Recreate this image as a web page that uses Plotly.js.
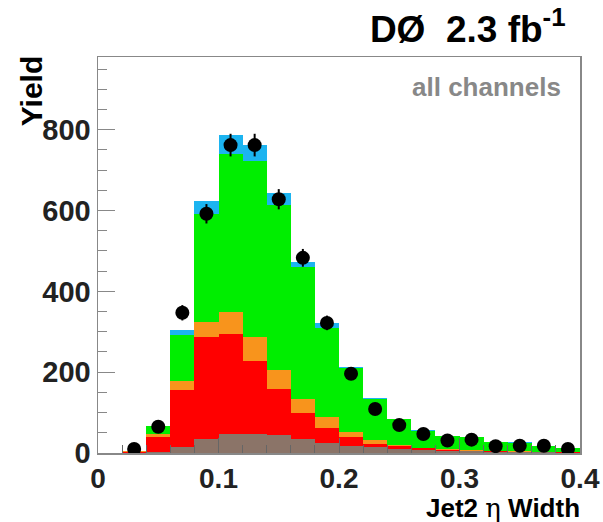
<!DOCTYPE html>
<html>
<head>
<meta charset="utf-8">
<script src="https://cdn.plot.ly/plotly-3.0.1.min.js"></script>
<style>html,body{margin:0;padding:0;background:#fff;}#chart{width:603px;height:522px;}</style>
</head>
<body>
<div id="chart"></div>
<script>
// Bin centres (bin width 0.02)
const binCenters = [0.03,0.05,0.07,0.09,0.11,0.13,0.15,0.17,0.19,0.21,0.23,0.25,0.27,0.29,0.31,0.33,0.35,0.37,0.39];
// Stacked background components (per-bin yields)
const brownYield  = [0,2,15,35,47,46,44,35,24,18,14,10,8,6,4,3,2,2,1];
const redYield    = [2,38,142,252,248,181,115,63,37,21,8,7,4,2,2,1,1,1,1];
const orangeYield = [2,7,20,38,54,60,47,36,27,14,10,3,1,1,1,1,1,0,0];
const greenYield  = [0,21,114,267,392,435,407,326,221,157,102,63,42,32,32,21,21,14,10];
const blueYield   = [0,0,14,32,45,41,30,12,12,3,3,2,1,1,1,1,1,1,1];
// Data
const dataYield = [10,65,347,592,762,762,628,483,322,196,109,69,47,31,33,17,18,18,10];
const dataError = [3,8,19,24,28,28,25,22,18,14,10,8,7,6,6,4,4,4,3];

const yTicks = [0,200,400,600,800];
const xTicks = [0,0.1,0.2,0.3,0.4];
const xTickText = ['0','0.1','0.2','0.3','0.4'];

const colors = {brown:'#8b7468', red:'#ff0000', orange:'#f8941c', green:'#00ee00', blue:'#1cb4f0'};

function bar(y, color, name){
  return {type:'bar', x:binCenters, y:y, width:0.02, name:name,
          marker:{color:color, line:{width:0}}, hoverinfo:'y', showlegend:false};
}

const traces = [
  bar(brownYield, colors.brown, 'brown'),
  bar(redYield, colors.red, 'red'),
  bar(orangeYield, colors.orange, 'orange'),
  bar(greenYield, colors.green, 'green'),
  bar(blueYield, colors.blue, 'blue'),
  {type:'scatter', mode:'markers', x:binCenters, y:dataYield, name:'data', showlegend:false,
   marker:{color:'#000', size:14},
   error_y:{type:'data', array:dataError, visible:true, color:'#000', thickness:2, width:0}}
];

const tickFontX = {family:'Liberation Sans, Arial, sans-serif', size:28, color:'#222', weight:'bold'};
const tickFontY = {family:'Liberation Sans, Arial, sans-serif', size:29, color:'#222', weight:'bold'};

const layout = {
  width:603, height:522,
  margin:{l:98, r:23, t:57, b:69, pad:0},
  paper_bgcolor:'#fff', plot_bgcolor:'#fff',
  barmode:'stack', bargap:0,
  showlegend:false,
  title:{text:'DØ  2.3 fb<sup>-1</sup>', x:0.938, xanchor:'right', y:0.945, yanchor:'middle',
         xref:'container', yref:'container',
         font:{family:'Liberation Sans, Arial, sans-serif', size:37, color:'#000', weight:'bold'}},
  xaxis:{range:[0,0.4], tickvals:xTicks, ticktext:xTickText, ticks:'inside', ticklen:15, tickwidth:1,
         tickcolor:'#666', showline:true, linecolor:'#888', linewidth:1.5, mirror:true,
         showgrid:false, zeroline:false, tickfont:tickFontX, ticklabelstandoff:0,
         minor:{dtick:0.02, ticks:'inside', ticklen:8, tickcolor:'#666', tickwidth:1, showgrid:false}},
  yaxis:{range:[0,980], tickvals:yTicks, ticks:'inside', ticklen:17, tickwidth:1,
         tickcolor:'#888', showline:true, linecolor:'#888', linewidth:1.5, mirror:true,
         showgrid:false, zeroline:false, tickfont:tickFontY,
         minor:{dtick:50, ticks:'inside', ticklen:9, tickcolor:'#888', tickwidth:1, showgrid:false}},
  annotations:[
    {text:'Yield', xref:'paper', yref:'paper', x:-0.139, y:1.008, xanchor:'center', yanchor:'top',
     textangle:-90, showarrow:false,
     font:{family:'Liberation Sans, Arial, sans-serif', size:30, color:'#000', weight:'bold'}},
    {text:'Jet2 <span style="font-weight:normal;font-family:DejaVu Serif">η</span> Width', xref:'paper', yref:'paper',
     x:1.004, y:-0.14, xanchor:'right', yanchor:'middle', showarrow:false,
     font:{family:'Liberation Sans, Arial, sans-serif', size:26, color:'#000', weight:'bold'}},
    {text:'all channels', xref:'paper', yref:'paper', x:0.965, y:0.924, xanchor:'right', yanchor:'middle',
     showarrow:false,
     font:{family:'Liberation Sans, Arial, sans-serif', size:26, color:'#888', weight:'bold'}}
  ]
};

Plotly.newPlot('chart', traces, layout, {displayModeBar:false, staticPlot:true});
</script>
</body>
</html>
